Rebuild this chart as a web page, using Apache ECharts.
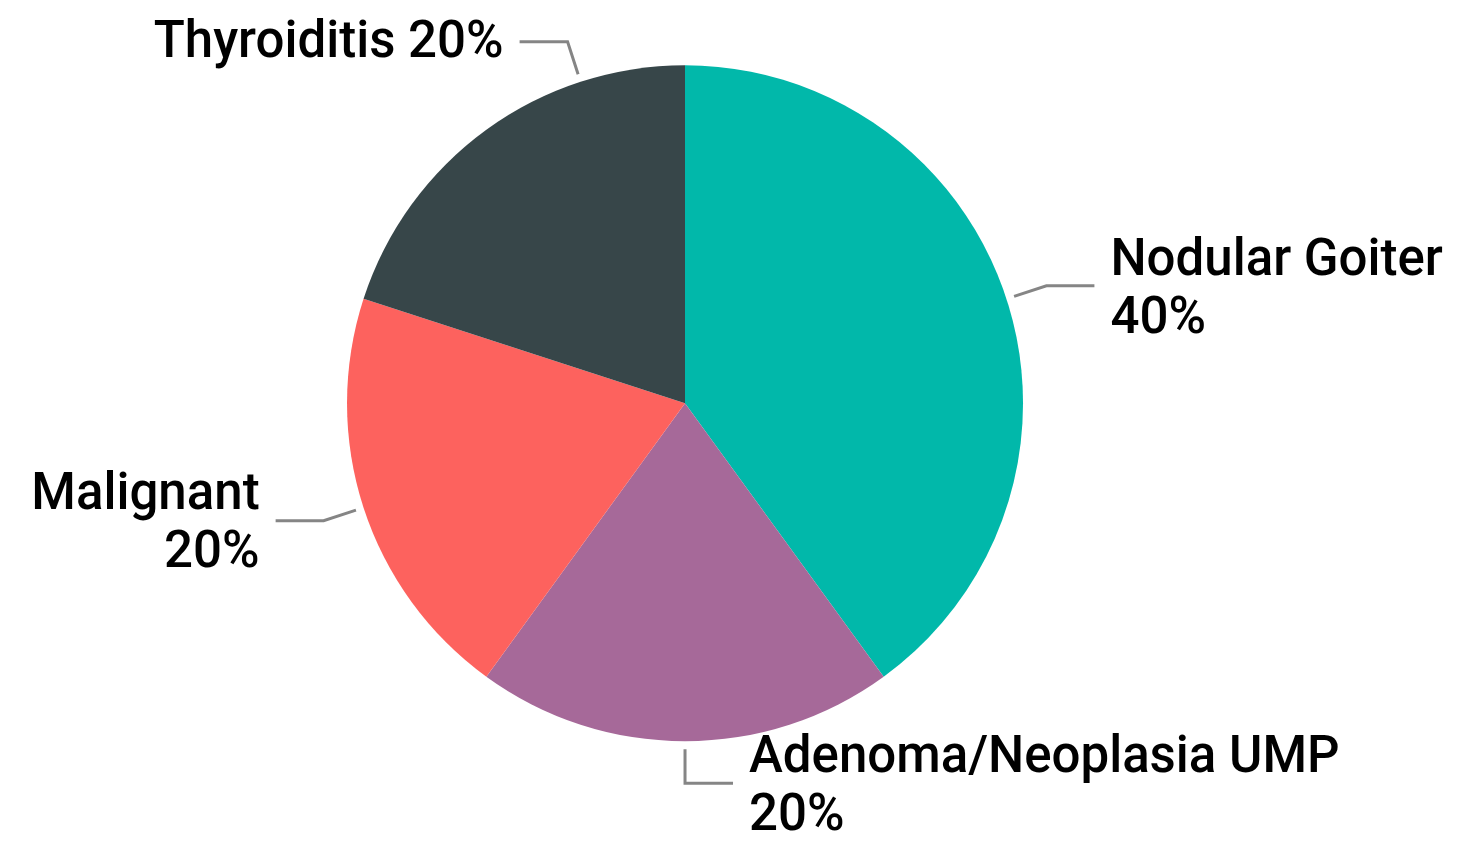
<!DOCTYPE html>
<html>
<head>
<meta charset="utf-8">
<script src="https://cdn.jsdelivr.net/npm/echarts@6/dist/echarts.min.js"></script>
<style>
  html, body { margin: 0; padding: 0; background: #fff; }
  #chart { width: 1470px; height: 849px; }
</style>
</head>
<body>
<div id="chart"></div>
<script>
const categories = ["Nodular Goiter", "Adenoma/Neoplasia UMP", "Malignant", "Thyroiditis"];
const values = [40, 20, 20, 20];
const colors = ["#01b8aa", "#a66999", "#fd625e", "#374649"];
// labels that stay on one line
const singleLine = ["Thyroiditis"];
// labels whose leader line is pulled off the slice middle (degrees clockwise from top)
const labelAngleOverride = { Thyroiditis: 342 };

const RADIUS = 338;
const LINE_GAP = 8;
const LEN1 = 34;
const LEN2 = 48;
const TEXT_GAP = 16;

const chart = echarts.init(document.getElementById("chart"));

function layoutLabel(params) {
    const pts = params.labelLinePoints;
    if (!pts) return;
    const name = categories[params.dataIndex];
    let dx = pts[1][0] - pts[0][0];
    let dy = pts[1][1] - pts[0][1];
    const len = Math.hypot(dx, dy) || 1;
    dx /= len;
    dy /= len;
    // pie centre from the first leader point on the rim
    const cx = pts[0][0] - dx * RADIUS;
    const cy = pts[0][1] - dy * RADIUS;
    if (labelAngleOverride[name] !== undefined) {
        const a = (labelAngleOverride[name] * Math.PI) / 180;
        dx = Math.sin(a);
        dy = -Math.cos(a);
    }
    const p0 = [cx + dx * (RADIUS + LINE_GAP), cy + dy * (RADIUS + LINE_GAP)];
    const p1 = [cx + dx * (RADIUS + LINE_GAP + LEN1), cy + dy * (RADIUS + LINE_GAP + LEN1)];
    const right = dx >= 0;
    const p2 = [p1[0] + (right ? LEN2 : -LEN2), p1[1]];
    return {
        x: p2[0] + (right ? TEXT_GAP : -TEXT_GAP),
        y: p2[1] + (singleLine.includes(name) ? 2 : 5),
        align: right ? "left" : "right",
        verticalAlign: "middle",
        labelLinePoints: [p0, p1, p2],
    };
}

const option = {
    animation: false,
    series: [
        {
            type: "pie",
            center: ["46.6%", "47.5%"],
            radius: RADIUS,
            startAngle: 90,
            clockwise: true,
            avoidLabelOverlap: false,
            data: categories.map((name, i) => ({
                name: name,
                value: values[i],
                itemStyle: { color: colors[i] },
            })),
            label: {
                show: true,
                position: "outside",
                color: "#000",
                fontFamily: "Roboto",
                fontWeight: 500,
                fontSize: 51,
                lineHeight: 58,
                formatter: (p) =>
                    singleLine.includes(p.name)
                        ? p.name + " " + Math.round(p.percent) + "%"
                        : p.name + "\n" + Math.round(p.percent) + "%",
            },
            labelLine: {
                show: true,
                length: LEN1,
                length2: LEN2,
                lineStyle: { color: "#858585", width: 3 },
            },
            labelLayout: layoutLabel,
        },
    ],
};

chart.setOption(option);
</script>
</body>
</html>
